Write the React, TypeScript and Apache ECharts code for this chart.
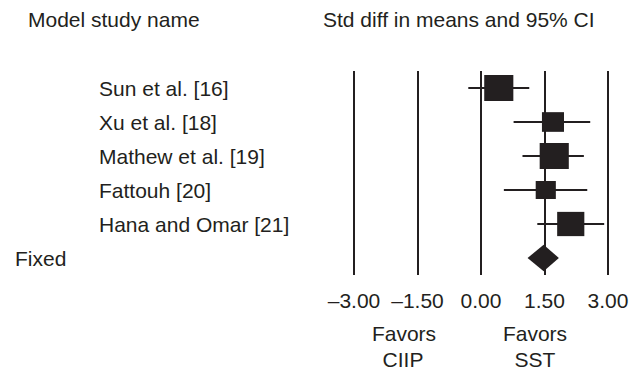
import React, { useEffect, useRef } from "react";
import * as echarts from "echarts";

// ---- data ----
const studies = ["Sun et al. [16]", "Xu et al. [18]", "Mathew et al. [19]", "Fattouh [20]", "Hana and Omar [21]"];
const pooledLabel = "Fixed";
const effects = [0.42, 1.7, 1.73, 1.53, 2.12];
const lower = [-0.3, 0.77, 0.98, 0.54, 1.33];
const upper = [1.14, 2.58, 2.43, 2.51, 2.91];
const weights = [25.5, 14.6, 25.5, 12.2, 22.2];
const pooledEffect = 1.48;
const pooledLower = 1.1;
const pooledUpper = 1.84;
const xMin = -3;
const xMax = 3;
const xInterval = 1.5;
const leftHeader = "Model study name";
const rightHeader = "Std diff in means and 95% CI";
const favorsLeft = ["Favors", "CIIP"];
const favorsRight = ["Favors", "SST"];

const ink = "#231f20";
const font = "'Liberation Sans', Arial, Helvetica, sans-serif";

export default function App() {
  const ref = useRef<HTMLDivElement>(null);
  useEffect(() => {
    if (!ref.current) return;
    const chart = echarts.init(ref.current, undefined, { renderer: "svg" });
    const categories = [...studies, pooledLabel];
    const studyData = studies.map((_, i) => [i, lower[i], upper[i], effects[i], weights[i]]);
    const pooledData = [[studies.length, pooledLower, pooledUpper, pooledEffect]];
    chart.setOption({
      animation: false,
      textStyle: { fontFamily: font, color: ink },
      grid: { left: 354, right: 33, top: 71, bottom: 97, containLabel: false },
      xAxis: {
        type: "value",
        min: xMin,
        max: xMax,
        interval: xInterval,
        axisLine: { show: false },
        axisTick: { show: false },
        splitLine: { show: true, showMinLine: true, showMaxLine: true, lineStyle: { color: ink, width: 2 } },
        axisLabel: {
          fontSize: 21,
          color: ink,
          fontFamily: font,
          margin: 15,
          formatter: (v: number) => (v < 0 ? "\u2013" : "") + Math.abs(v).toFixed(2),
        },
      },
      yAxis: {
        type: "category",
        data: categories,
        inverse: true,
        axisLine: { show: false },
        axisTick: { show: false },
        splitLine: { show: false },
        axisLabel: {
          margin: 339,
          align: "left",
          fontFamily: font,
          formatter: (v: string, i: number) => (i < studies.length ? `{s|${v}}` : `{f|${v}}`),
          rich: {
            s: { fontSize: 21, color: ink, fontFamily: font, padding: [0, 0, 0, 84] },
            f: { fontSize: 21, color: ink, fontFamily: font },
          },
        },
      },
      series: [
        {
          type: "custom",
          data: studyData,
          encode: { x: [1, 2, 3], y: 0 },
          renderItem: (params: any, api: any) => {
            const y = api.value(0);
            const pLo = api.coord([api.value(1), y]);
            const pHi = api.coord([api.value(2), y]);
            const pE = api.coord([api.value(3), y]);
            const h = 5.15 * Math.sqrt(api.value(4));
            const w = h * 1.12;
            return {
              type: "group",
              children: [
                {
                  type: "line",
                  shape: { x1: pLo[0], y1: pLo[1], x2: pHi[0], y2: pHi[1] },
                  style: { stroke: ink, lineWidth: 2 },
                },
                {
                  type: "rect",
                  shape: { x: pE[0] - w / 2, y: pE[1] - h / 2, width: w, height: h },
                  style: { fill: ink },
                },
              ],
            };
          },
        },
        {
          type: "custom",
          data: pooledData,
          encode: { x: [1, 2, 3], y: 0 },
          renderItem: (params: any, api: any) => {
            const y = api.value(0);
            const pLo = api.coord([api.value(1), y]);
            const pHi = api.coord([api.value(2), y]);
            const pE = api.coord([api.value(3), y]);
            const half = 13.3;
            return {
              type: "polygon",
              shape: {
                points: [
                  [pLo[0], pLo[1]],
                  [pE[0], pE[1] - half],
                  [pHi[0], pHi[1]],
                  [pE[0], pE[1] + half],
                ],
              },
              style: { fill: ink },
            };
          },
        },
      ],
      graphic: [
        { type: "text", left: 28, top: 9, style: { text: leftHeader, fontSize: 21, fill: ink, fontFamily: font } },
        { type: "text", left: 323, top: 9, style: { text: rightHeader, fontSize: 21, fill: ink, fontFamily: font } },
        { type: "text", x: 404, y: 333, style: { text: favorsLeft[0], fontSize: 21, fill: ink, fontFamily: font, align: "center", verticalAlign: "middle" } },
        { type: "text", x: 403, y: 359, style: { text: favorsLeft[1], fontSize: 21, fill: ink, fontFamily: font, align: "center", verticalAlign: "middle" } },
        { type: "text", x: 535, y: 333, style: { text: favorsRight[0], fontSize: 21, fill: ink, fontFamily: font, align: "center", verticalAlign: "middle" } },
        { type: "text", x: 535, y: 359, style: { text: favorsRight[1], fontSize: 21, fill: ink, fontFamily: font, align: "center", verticalAlign: "middle" } },
      ],
    });
    return () => chart.dispose();
  }, []);
  return <div ref={ref} style={{ position: "fixed", left: 0, top: 0, width: 641, height: 372, background: "#fff" }} />;
}
